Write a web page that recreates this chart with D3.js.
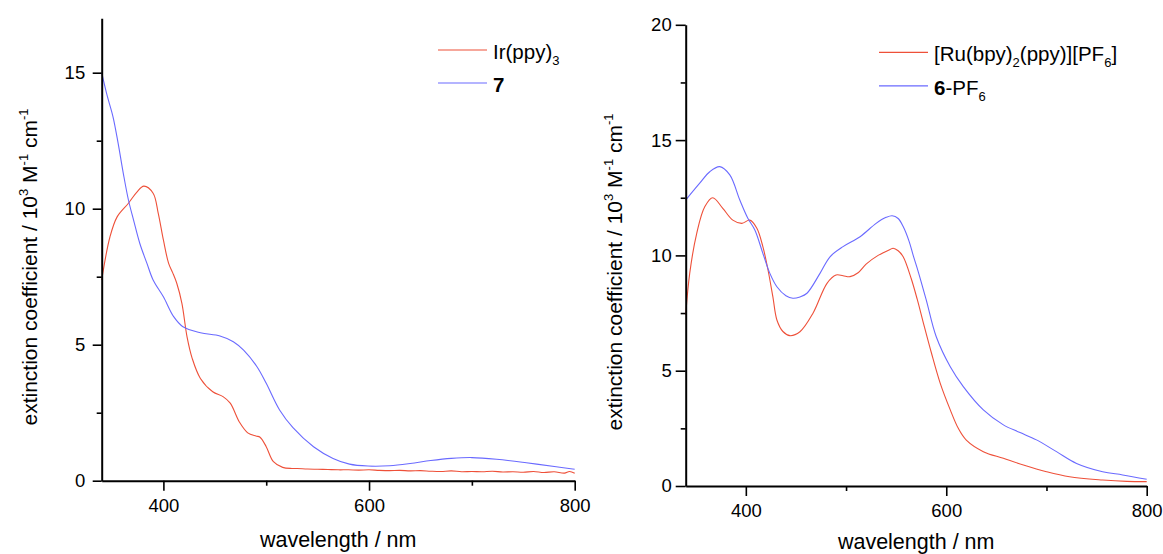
<!DOCTYPE html>
<html>
<head>
<meta charset="utf-8">
<script src="https://cdn.jsdelivr.net/npm/d3@7"></script>
<style>
  html, body { margin: 0; padding: 0; background: #ffffff; }
  svg { display: block; }
  text { font-family: "Liberation Sans", Arial, sans-serif; fill: #000; }
</style>
</head>
<body>
<svg id="chart" width="1163" height="554"></svg>
<script>
// ---------- data ----------
// Left panel: Ir(ppy)3 and 7
const irWl  = [340,348,355,366,374,381,390,395,400,405,409,413,418,423,428,436,448,458,465,474,482,490,494,500,507,516,525,
               530,540,550,560,570,580,590,600,610,620,630,640,650,660,670,680,690,700,710,720,730,740,750,760,770,780,790,795,800];
const irVal = [7.38,8.96,9.70,10.20,10.60,10.83,10.57,9.83,8.85,8.00,7.65,7.26,6.52,5.29,4.50,3.76,3.27,3.09,2.85,2.15,1.76,1.64,1.60,1.25,0.70,0.49,0.45,
               0.45,0.43,0.42,0.41,0.40,0.40,0.39,0.40,0.38,0.37,0.38,0.36,0.37,0.35,0.34,0.36,0.33,0.34,0.33,0.35,0.32,0.33,0.31,0.34,0.30,0.33,0.28,0.34,0.27];
const c7Wl  = [340,345,351,356,361,366,371,377,384,390,400,410,419,436,455,468,478,491,500,513,526,546,565,581,599,620,640,660,680,700,724,753,782,798,800];
const c7Val = [15.0,14.2,13.38,12.4,11.3,10.32,9.58,8.73,7.99,7.38,6.76,6.03,5.66,5.44,5.32,5.11,4.80,4.19,3.58,2.60,1.95,1.25,0.82,0.61,0.54,0.55,0.63,0.74,0.82,0.85,0.79,0.66,0.51,0.43,0.42];

// Right panel: [Ru(bpy)2(ppy)][PF6] and 6-PF6
const ruWl  = [340,344,351,359,367,377,387,396,404,411,417,422,427,431,437,444,454,467,481,490,497,504,512,520,532,544,547,552,557,565,571,577,585,594,604,612,620,637,657,677,700,723,756,780,800];
const ruVal = [7.42,9.22,10.96,12.11,12.5,12.04,11.53,11.39,11.53,11.18,10.38,9.4,8.2,7.2,6.7,6.52,6.69,7.49,8.79,9.15,9.12,9.08,9.25,9.62,10.0,10.26,10.31,10.2,9.94,9.0,8.1,7.1,5.8,4.45,3.30,2.5,1.99,1.49,1.20,0.91,0.62,0.40,0.26,0.20,0.19];
const c6Wl  = [340,354,364,374,384,394,402,409,417,424,431,440,447,454,461,474,484,497,514,530,540,546,552,557,563,567,572,580,590,604,617,637,657,673,690,710,730,756,776,800];
const c6Val = [12.4,13.13,13.63,13.85,13.49,12.4,11.61,11.1,10.09,9.22,8.64,8.25,8.14,8.2,8.36,9.22,9.94,10.38,10.81,11.39,11.65,11.72,11.6,11.25,10.6,10.0,9.3,8.07,6.47,5.17,4.31,3.30,2.65,2.33,2.0,1.49,0.98,0.62,0.48,0.29];

const xMajor = [400, 600, 800];
const xMinor = [500, 700];
const leftYMajor = [0, 5, 10, 15];
const leftYMinor = [2.5, 7.5, 12.5];
const rightYMajor = [0, 5, 10, 15, 20];
const rightYMinor = [2.5, 7.5, 12.5, 17.5];

const RED = "#ee5039";
const BLUE = "#6a6aff";

const svg = d3.select("#chart");

function zip(xs, ys) { return xs.map((x, i) => [x, ys[i]]); }

function drawPanel(p) {
  const x = d3.scaleLinear().domain([340, 800]).range([p.x0, p.x1]);
  const y = d3.scaleLinear().domain([0, p.yMax]).range([p.y0, p.y1]);
  const g = svg.append("g");

  // series
  const line = d3.line().x(d => x(d[0])).y(d => y(d[1])).curve(d3.curveCatmullRom.alpha(0.5));
  p.series.forEach(s => {
    g.append("path").datum(zip(s.wl, s.val))
      .attr("fill", "none").attr("stroke", s.color).attr("stroke-width", 1.1)
      .attr("d", line);
  });

  // x axis
  g.append("g").attr("transform", `translate(0,${p.y0})`)
    .call(d3.axisBottom(x).tickValues(xMajor).tickFormat(d3.format("d")).tickSize(10).tickSizeOuter(0).tickPadding(p.xPad));
  g.append("g").attr("transform", `translate(0,${p.y0})`)
    .call(d3.axisBottom(x).tickValues(xMinor).tickFormat("").tickSize(5).tickSizeOuter(0))
    .select(".domain").remove();
  // y axis
  g.append("g").attr("transform", `translate(${p.x0},0)`)
    .call(d3.axisLeft(y).tickValues(p.yMajor).tickFormat(d3.format("d")).tickSize(p.yTick).tickSizeOuter(0).tickPadding(p.yPad));
  g.append("g").attr("transform", `translate(${p.x0},0)`)
    .call(d3.axisLeft(y).tickValues(p.yMinor).tickFormat("").tickSize(5).tickSizeOuter(0))
    .select(".domain").remove();

  g.selectAll(".domain").attr("stroke", "#000").attr("stroke-width", 2);
  g.selectAll(".tick line").attr("stroke", "#000").attr("stroke-width", 1.6);
  g.selectAll(".tick text").attr("font-size", 18.5).attr("font-family", "Liberation Sans, Arial, sans-serif").attr("fill", "#000");

  // axis titles
  g.append("text").attr("x", (p.x0 + p.x1) / 2).attr("y", p.xTitleY)
    .attr("text-anchor", "middle").attr("font-size", 21.5).text("wavelength / nm");

  const yt = g.append("text")
    .attr("transform", `translate(${p.yTitleX},${p.yTitleY}) rotate(-90)`)
    .attr("text-anchor", "middle").attr("font-size", 21);
  yt.append("tspan").text("extinction coefficient / 10");
  yt.append("tspan").attr("font-size", 13).attr("dy", -9).text("3");
  yt.append("tspan").attr("dy", 9).text(" M");
  yt.append("tspan").attr("font-size", 13).attr("dy", -9).text("-1");
  yt.append("tspan").attr("dy", 9).text(" cm");
  yt.append("tspan").attr("font-size", 13).attr("dy", -9).text("-1");

  // legend
  p.series.forEach((s, i) => {
    const ly = p.legY + i * p.legGap;
    g.append("line").attr("x1", p.legX).attr("x2", p.legX + 49).attr("y1", ly).attr("y2", ly)
      .attr("stroke", s.color).attr("stroke-width", 1.2);
    const t = g.append("text").attr("x", p.legX + 55).attr("y", ly + 9).attr("font-size", 20.5);
    s.label(t);
  });
}

drawPanel({
  x0: 101.7, x1: 574.7, y0: 480.7, y1: 18.3, yMax: 17,
  yMajor: leftYMajor, yMinor: leftYMinor, yTick: 9, yPad: 7.5, xPad: 8,
  xTitleY: 547, yTitleX: 36.5, yTitleY: 267,
  legX: 438, legY: 50, legGap: 33,
  series: [
    { wl: irWl, val: irVal, color: RED, label: t => {
        t.append("tspan").text("Ir(ppy)");
        t.append("tspan").attr("font-size", 13).attr("dy", 6).text("3");
      } },
    { wl: c7Wl, val: c7Val, color: BLUE, label: t => {
        t.append("tspan").attr("font-weight", "bold").text("7");
      } }
  ]
});

drawPanel({
  x0: 685.7, x1: 1146.7, y0: 486, y1: 24.8, yMax: 20,
  yMajor: rightYMajor, yMinor: rightYMinor, yTick: 10, yPad: 4, xPad: 8,
  xTitleY: 548.5, yTitleX: 621.5, yTitleY: 272,
  legX: 879, legY: 52.3, legGap: 33.5,
  series: [
    { wl: ruWl, val: ruVal, color: RED, label: t => {
        t.append("tspan").text("[Ru(bpy)");
        t.append("tspan").attr("font-size", 13).attr("dy", 6).text("2");
        t.append("tspan").attr("dy", -6).text("(ppy)][PF");
        t.append("tspan").attr("font-size", 13).attr("dy", 6).text("6");
        t.append("tspan").attr("dy", -6).text("]");
      } },
    { wl: c6Wl, val: c6Val, color: BLUE, label: t => {
        t.append("tspan").attr("font-weight", "bold").text("6");
        t.append("tspan").text("-PF");
        t.append("tspan").attr("font-size", 13).attr("dy", 6).text("6");
      } }
  ]
});
</script>
</body>
</html>
